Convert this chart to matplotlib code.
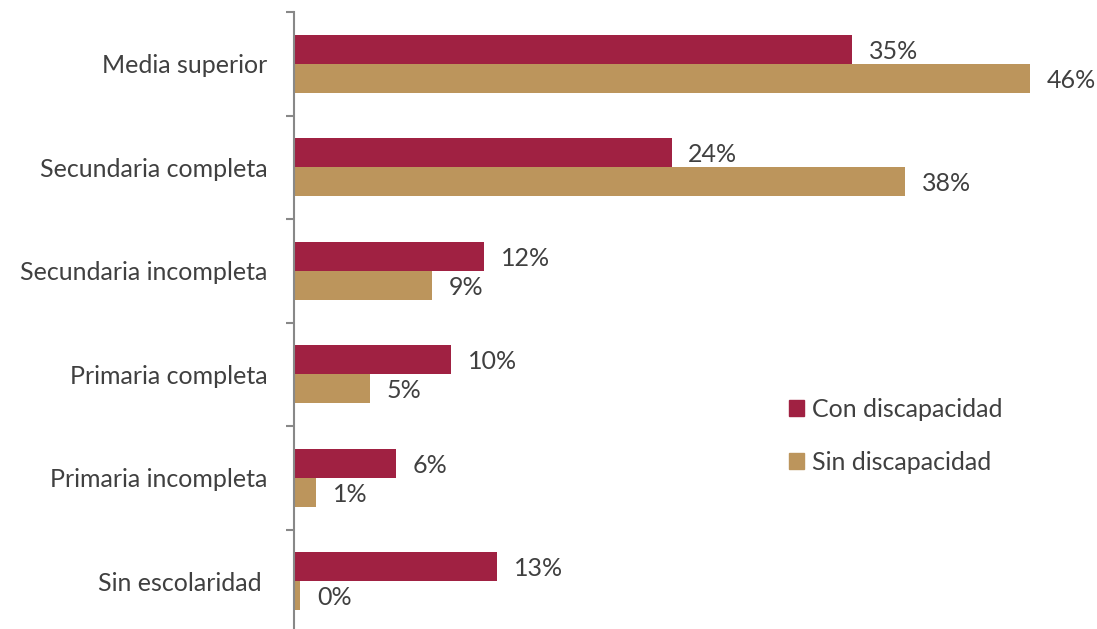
import matplotlib
matplotlib.use("Agg")
import numpy as np
import matplotlib.pyplot as plt
from matplotlib.patches import Patch

# Data (top to bottom)
categorias = ["Media superior", "Secundaria completa", "Secundaria incompleta",
              "Primaria completa", "Primaria incompleta", "Sin escolaridad "]
con_discapacidad = [34.9, 23.6, 11.9, 9.8, 6.4, 12.7]
sin_discapacidad = [46.0, 38.2, 8.6, 4.75, 1.4, 0.4]

color_con = "#A02142"
color_sin = "#BC955C"
text_color = "#404040"

plt.rcParams["font.family"] = ["Lato", "DejaVu Sans"]
fs = 18

fig = plt.figure(figsize=(10.97, 6.29), dpi=100)
ax = fig.add_axes([294 / 1097, 1 - 633 / 629, 800 / 1097, 621 / 629])

y = np.arange(len(categorias))
h = 0.28
bars_con = ax.barh(y - h / 2, con_discapacidad, height=h, color=color_con)
bars_sin = ax.barh(y + h / 2, sin_discapacidad, height=h, color=color_sin)

# value labels
for bars, vals in [(bars_con, con_discapacidad), (bars_sin, sin_discapacidad)]:
    for b, v in zip(bars, vals):
        ax.annotate(f"{round(v):d}%", (b.get_width(), b.get_y() + b.get_height() / 2),
                    xytext=(12, -1.5), textcoords="offset points",
                    va="center", ha="left", fontsize=fs, color=text_color)

ax.set_xlim(0, 50)
ax.set_ylim(len(categorias) - 0.5, -0.5)

# category labels at centres, tick marks at band boundaries
ax.set_yticks(y)
ax.set_yticklabels(categorias, fontsize=fs, color=text_color)
ax.tick_params(axis="y", which="major", length=0, pad=19)
ax.set_yticks(np.arange(len(categorias) + 1) - 0.5, minor=True)
ax.tick_params(axis="y", which="minor", length=6, width=1.5, color="#888888")

ax.set_xticks([])
for s in ["top", "right", "bottom"]:
    ax.spines[s].set_visible(False)
ax.spines["left"].set_color("#888888")
ax.spines["left"].set_linewidth(1.5)

handles = [Patch(color=color_con, label="Con discapacidad"),
           Patch(color=color_sin, label="Sin discapacidad")]
leg = ax.legend(handles=handles, loc="upper left", bbox_to_anchor=(0.59, 0.415),
                frameon=False, fontsize=fs, handlelength=0.6, handleheight=0.6,
                handletextpad=0.35, labelspacing=1.2)
for t in leg.get_texts():
    t.set_color(text_color)

fig.savefig("out.png", dpi=100)
